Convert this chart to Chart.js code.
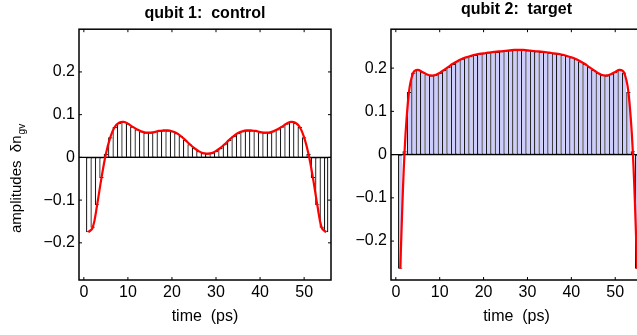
<!DOCTYPE html>
<html>
<head>
<meta charset="utf-8">
<script src="https://cdn.jsdelivr.net/npm/chart.js@4/dist/chart.umd.min.js"></script>
<style>
  html, body { margin: 0; padding: 0; background: #fff; overflow: hidden; }
  #wrap { position: relative; width: 637px; height: 335px; overflow: hidden; }
  canvas { position: absolute; top: 0; }
  #c1 { left: 0; }
  #c2 { left: 340px; }
</style>
</head>
<body>
<div id="wrap">
  <canvas id="c1" width="340" height="335"></canvas>
  <canvas id="c2" width="310" height="335"></canvas>
</div>
<script>
// time samples (ps), one bar per sample
const times = [1,2,3,4,5,6,7,8,9,10,11,12,13,14,15,16,17,18,19,20,21,22,23,24,25,26,27,28,
               29,30,31,32,33,34,35,36,37,38,39,40,41,42,43,44,45,46,47,48,49,50,51,52,53,54,55];

// qubit 1 (control) amplitudes
const controlAmp = [-0.175,-0.165,-0.112,-0.048,0.008,0.047,0.071,0.081,0.083,0.079,0.072,0.066,0.061,0.058,
                    0.058,0.059,0.062,0.063,0.063,0.061,0.057,0.050,0.041,0.031,0.022,0.015,0.010,0.009,
                    0.010,0.015,0.022,0.031,0.041,0.050,0.057,0.061,0.063,0.063,0.062,0.059,0.058,
                    0.058,0.061,0.066,0.072,0.079,0.083,0.081,0.071,0.047,0.008,-0.048,-0.112,-0.165,-0.175];

// qubit 2 (target) amplitudes
const targetAmp = [-0.264,0.008,0.145,0.190,0.196,0.191,0.186,0.183,0.184,0.189,0.196,0.203,0.210,0.216,
                   0.221,0.225,0.228,0.231,0.233,0.234,0.236,0.237,0.238,0.239,0.240,0.241,0.242,0.242,
                   0.242,0.241,0.240,0.239,0.238,0.237,0.236,0.234,0.233,0.231,0.228,0.225,0.221,
                   0.216,0.210,0.203,0.196,0.189,0.184,0.183,0.186,0.191,0.196,0.190,0.145,0.008,-0.264];

const xTicks = [0, 10, 20, 30, 40, 50];
const yTicks = [-0.2, -0.1, 0, 0.1, 0.2];
const yTickLabels = ['\u22120.2', '\u22120.1', '0', '0.1', '0.2'];

const FONT = '"Liberation Sans", Arial, Helvetica, sans-serif';
Chart.defaults.color = '#000';
Chart.defaults.font.family = FONT;
Chart.defaults.font.size = 16;

// box, inward ticks and bar baseline, matlab style
const frame = {
  id: 'frame',
  afterDatasetDraw(chart, args) {
    if (args.meta.type !== 'bar') return;
    const {ctx, chartArea: a, scales: {y}} = chart;
    const y0 = y.getPixelForValue(0);
    ctx.save();
    ctx.strokeStyle = '#000';
    ctx.lineWidth = 1.3;
    ctx.beginPath();
    ctx.moveTo(a.left, y0);
    ctx.lineTo(a.right, y0);
    ctx.stroke();
    ctx.restore();
  },
  afterDraw(chart) {
    const {ctx, chartArea: a, scales: {x, y}} = chart;
    ctx.save();
    ctx.strokeStyle = '#000';
    ctx.lineWidth = 1.5;
    ctx.strokeRect(a.left, a.top, a.right - a.left, a.bottom - a.top);
    ctx.lineWidth = 1;
    ctx.beginPath();
    xTicks.forEach(v => {
      const px = x.getPixelForValue(v);
      ctx.moveTo(px, a.bottom); ctx.lineTo(px, a.bottom - 3);
      ctx.moveTo(px, a.top); ctx.lineTo(px, a.top + 3);
    });
    yTicks.forEach(v => {
      const py = y.getPixelForValue(v);
      ctx.moveTo(a.left, py); ctx.lineTo(a.left + 3, py);
      ctx.moveTo(a.right, py); ctx.lineTo(a.right - 3, py);
    });
    ctx.stroke();
    ctx.restore();
  }
};

// rotated y title with subscript
const yTitle = {
  id: 'yTitle',
  afterDraw(chart) {
    const ctx = chart.ctx;
    ctx.save();
    ctx.translate(21, 233);
    ctx.rotate(-Math.PI / 2);
    ctx.fillStyle = '#000';
    ctx.textBaseline = 'alphabetic';
    ctx.textAlign = 'left';
    ctx.font = '15px ' + FONT;
    const main = 'amplitudes  \u03b4n';
    ctx.fillText(main, 0, 0);
    const w = ctx.measureText(main).width;
    ctx.font = '10px ' + FONT;
    ctx.fillText('gv', w + 1, 4);
    ctx.restore();
  }
};

function makeChart(id, title, titlePad, values, fill, yMin, yMax, yWidth, padRight, extra) {
  return new Chart(document.getElementById(id), {
    type: 'bar',
    data: {
      labels: times,
      datasets: [{
        type: 'line',
        data: values,
        borderColor: '#ff0000',
        borderWidth: 2.2,
        pointRadius: 0,
        tension: 0.4,
        fill: false,
        order: 0
      }, {
        type: 'bar',
        data: values,
        backgroundColor: fill,
        borderColor: '#1a1a1a',
        borderWidth: c => ({left: 1.3, top: 1.2, bottom: 1, right: c.dataIndex === times.length - 1 ? 1.3 : 0}),
        borderSkipped: false,
        inflateAmount: 0,
        barPercentage: 1,
        categoryPercentage: 1,
        order: 1
      }]
    },
    options: {
      responsive: false,
      animation: false,
      layout: { padding: { left: 0, right: padRight, top: 0, bottom: 0 } },
      plugins: {
        legend: { display: false },
        tooltip: { enabled: false },
        title: {
          display: true,
          text: title,
          fullSize: false,
          font: { size: 16, weight: 'bold' },
          color: '#000',
          padding: titlePad
        }
      },
      scales: {
        x: {
          type: 'linear',
          min: -1.1,
          max: 56.1,
          offset: false,
          grid: { display: false, drawTicks: false, offset: false },
          border: { display: false },
          ticks: { padding: 3, maxRotation: 0 },
          afterBuildTicks: s => { s.ticks = xTicks.map(v => ({ value: v })); },
          afterFit: s => { s.height = 55; },
          title: { display: true, text: 'time  (ps)', font: { size: 16 }, padding: { top: 0, bottom: 9 } }
        },
        y: {
          min: yMin,
          max: yMax,
          grid: { display: false, drawTicks: false },
          border: { display: false },
          ticks: { padding: 4, callback: (v, i) => yTickLabels[i] },
          afterBuildTicks: s => { s.ticks = yTicks.map(v => ({ value: v })); },
          afterFit: s => { s.width = yWidth; }
        }
      }
    },
    plugins: [frame].concat(extra)
  });
}

makeChart('c1', 'qubit 1:  control', { top: 4, bottom: 6 }, controlAmp, '#ffffff', -0.287, 0.3, 79, 9, [yTitle]);
makeChart('c2', 'qubit 2:  target', { top: 0, bottom: 10 }, targetAmp, 'rgb(204,204,255)', -0.29, 0.29, 51, 8, []);
</script>
</body>
</html>
